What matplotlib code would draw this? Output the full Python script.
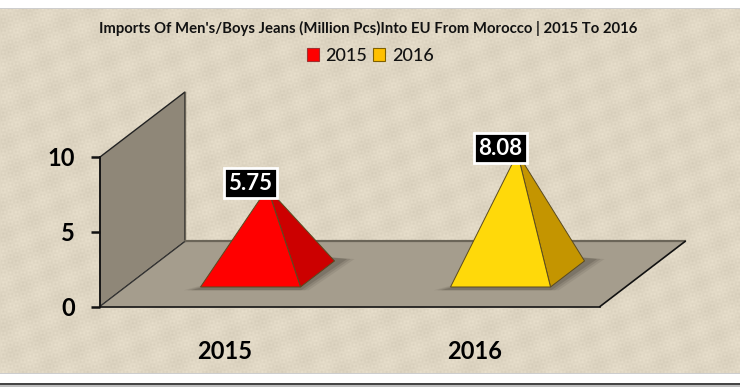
import numpy as np
import matplotlib
matplotlib.use('Agg')
from matplotlib import pyplot as plt
from matplotlib.patches import Patch, Polygon

plt.rcParams['font.family'] = ['Lato', 'DejaVu Sans']
plt.rcParams['font.weight'] = 'bold'

years = ['2015', '2016']
values = [5.75, 8.08]
yticks = [0, 5, 10]
title = "Imports Of Men's/Boys Jeans (Million Pcs)Into EU From Morocco | 2015 To 2016"
front_colors = ['#ff0000', '#ffd90a']
side_colors = ['#cc0000', '#c49500']
legend_colors = ['#ff0000', '#ffc000']
legend_edges = ['#a03030', '#7f6000']

W, H = 740, 387
# oblique depth of the 3d box, in data units
DEPTH_X = 0.34
DEPTH_Y = 4.35


def proj(x, depth, v):
    return (x + DEPTH_X * depth, v + DEPTH_Y * depth)


def poly(ax, pts, **kw):
    p = Polygon([proj(*q) for q in pts], closed=True, clip_on=False, **kw)
    ax.add_patch(p)
    return p


# linen background, white bands top and bottom
yy, xx = np.mgrid[0:H, 0:W]
weave = (3.5 * np.sin(2 * np.pi * xx / 3.6) * np.sin(2 * np.pi * yy / 11.0)
         + 3.5 * np.sin(2 * np.pi * yy / 3.9) * np.sin(2 * np.pi * xx / 13.0)
         + 2.5 * np.sin(2 * np.pi * (xx + 2 * yy) / 61.0)
         + 2.0 * np.sin(2 * np.pi * (3 * xx - yy) / 97.0))
img = np.zeros((H, W, 3))
img[..., 0] = 223 + weave
img[..., 1] = 214 + weave
img[..., 2] = 195 + weave
img[:9] = 255
img[8] = 205
img[373:] = 255
img[373] = 205
img[383:385] = [70, 70, 70]
img[385:] = [190, 190, 190]

fig = plt.figure(figsize=(W / 100, H / 100), dpi=100)
fig.patch.set_alpha(0)
fig.figimage(np.clip(img, 0, 255).astype(np.uint8), zorder=-1)

ax = fig.add_axes([100 / W, (H - 306.5) / H, 500 / W, 149.5 / H])
ax.patch.set_alpha(0)
ax.set_xlim(0, 2)
ax.set_ylim(0, 10)

# wall and floor
poly(ax, [(0, 0, 0), (0, 1, 0), (0, 1, 10), (0, 0, 10)], fc='#8f8778', ec='#222222', lw=1.0, zorder=1)
poly(ax, [(0, 0, 0), (2, 0, 0), (2, 1, 0), (0, 1, 0)], fc='#a59d8d', ec='none', zorder=1)
ax.plot(*zip(proj(0, 1, 0), proj(2, 1, 0)), color='#6b6558', lw=1.6, clip_on=False, zorder=2)
ax.plot(*zip(proj(2, 1, 0), proj(2, 0, 0)), color='#111111', lw=1.2, clip_on=False, zorder=2)
ax.plot(*zip(proj(0, 0, 0), proj(0, 1, 0)), color='#333333', lw=0.8, clip_on=False, zorder=2)
ax.plot(*zip(proj(0, 1, 0), proj(0, 1, 10)), color='#6b6558', lw=1.0, clip_on=False, zorder=2)

# pyramids
for i, v in enumerate(values):
    c = i + 0.5
    l, r = c - 0.2, c + 0.2
    n, f = 0.3, 0.7
    for grow, a in [(0.05, 0.10), (0.035, 0.14), (0.02, 0.2)]:
        poly(ax, [(l - grow, n - 0.05, 0), (r + grow, n - 0.05, 0), (r + grow + 0.02, f + 0.03, 0), (r - 0.12, f + 0.08, 0)],
             fc='#3a352c', ec='none', alpha=a, zorder=3)
    apex = (c, 0.5, v)
    poly(ax, [(r, n, 0), (r, f, 0), apex], fc=side_colors[i], ec='#5a4a20', lw=0.7, zorder=4)
    poly(ax, [(l, n, 0), (r, n, 0), apex], fc=front_colors[i], ec='#5a4a20', lw=0.7, zorder=5)
    ax.annotate('%.2f' % v, xy=proj(*apex), xytext=(-12.2, 3.6), textcoords='offset points',
                ha='center', va='center', color='white', fontsize=16, zorder=7,
                annotation_clip=False,
                bbox=dict(boxstyle='square,pad=0.19', fc='black', ec='white', lw=2))

for s in ['top', 'right']:
    ax.spines[s].set_visible(False)
for s in ['left', 'bottom']:
    ax.spines[s].set_color('#111111')
    ax.spines[s].set_linewidth(1.2)
    ax.spines[s].set_zorder(2)

ax.set_yticks(yticks)
ax.tick_params(axis='y', length=6.5, width=1.8, color='#111111', pad=11.5, labelsize=17)
ax.set_xticks([0.5, 1.5])
ax.set_xticklabels(years)
ax.tick_params(axis='x', length=0, pad=24, labelsize=17)

fig.text(368 / W, 1 - 28 / H, title, ha='center', va='center', fontsize=10.7, color='#111111')

handles = [Patch(fc=legend_colors[i], ec=legend_edges[i], lw=0.8) for i in range(2)]
leg = fig.legend(handles, years, loc='center', bbox_to_anchor=(370 / W, 1 - 56 / H), ncol=2, frameon=False,
                 fontsize=13, handlelength=0.7, handleheight=0.7, handletextpad=0.35, columnspacing=0.3,
                 borderpad=0)
for t in leg.get_texts():
    t.set_fontweight('medium')
    t.set_color('#111111')

fig.savefig('out.png', dpi=100)
